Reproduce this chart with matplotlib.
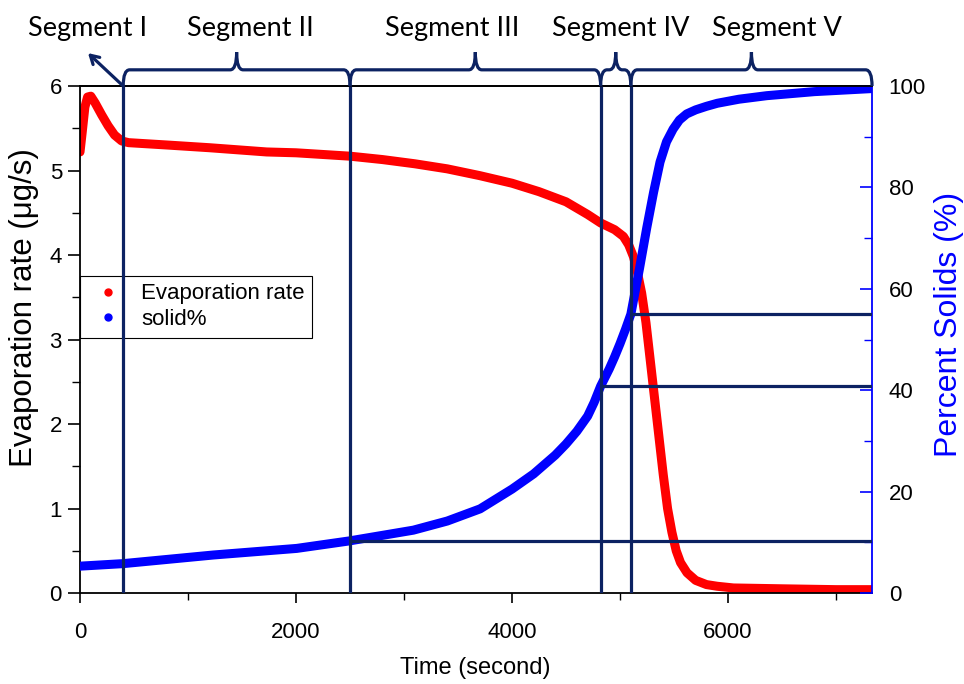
import matplotlib
matplotlib.use("Agg")
import matplotlib.pyplot as plt
import matplotlib.transforms as mtransforms
from matplotlib.path import Path
from matplotlib.patches import PathPatch
from matplotlib.lines import Line2D
from matplotlib.ticker import MultipleLocator

# evaporation rate (ug/s) vs time (s)
time_rate = [0, 20, 45, 70, 100, 140, 200, 260, 320, 386, 450, 833, 1200,
             1728, 2000, 2500, 2800, 3100, 3400, 3700, 4000, 4250, 4500, 4700,
             4820, 4950, 5031, 5080, 5124, 5160, 5200, 5240, 5280, 5320, 5360,
             5400, 5440, 5480, 5520, 5560, 5620, 5700, 5800, 5900, 6050, 6500,
             7000, 7330]
rate = [5.22, 5.45, 5.75, 5.87, 5.88, 5.80, 5.66, 5.53, 5.42, 5.35, 5.33,
        5.30, 5.27, 5.22, 5.21, 5.17, 5.13, 5.08, 5.02, 4.94, 4.85, 4.75,
        4.63, 4.48, 4.38, 4.30, 4.22, 4.12, 3.98, 3.80, 3.55, 3.20, 2.75,
        2.30, 1.85, 1.40, 1.00, 0.72, 0.50, 0.36, 0.24, 0.15, 0.10, 0.08,
        0.06, 0.05, 0.04, 0.04]

# percent solids vs time (s)
time_solid = [0, 400, 1234, 2006, 2500, 3086, 3400, 3704, 4000, 4200, 4400,
              4500, 4600, 4700, 4760, 4820, 4900, 4950, 5000, 5050, 5100,
              5180, 5247, 5310, 5370, 5430, 5491, 5550, 5617, 5700, 5800,
              5900, 6100, 6358, 6800, 7330]
solid = [5.3, 5.8, 7.5, 8.8, 10.3, 12.4, 14.2, 16.6, 20.5, 23.5, 27.2, 29.4,
         31.9, 34.9, 37.6, 40.8, 44.2, 46.6, 49.2, 52.0, 55.0, 64.0, 72.0,
         79.0, 85.0, 89.0, 91.5, 93.3, 94.5, 95.3, 96.0, 96.6, 97.4, 98.1,
         98.9, 99.5]

# segment boundaries (s) and solid% reached at each boundary
bounds = [400, 2500, 4820, 5100]
levels = [10.3, 40.8, 55.0]
seg_names = ["Segment I", "Segment II", "Segment III", "Segment IV", "Segment V"]
seg_label_x = [74, 1574, 3444, 5009, 6454]

t_max = 7333
navy = "#0c2262"
arial = ["Liberation Sans", "DejaVu Sans"]

fig = plt.figure(figsize=(9.64, 6.84), dpi=100)
ax = fig.add_axes([0.083, 0.133, 0.8216, 0.7412])
ax2 = ax.twinx()

ax.plot(time_rate, rate, color="red", lw=6.5, solid_capstyle="round",
        solid_joinstyle="round")
ax2.plot(time_solid, solid, color="blue", lw=6.5, solid_capstyle="round",
         solid_joinstyle="round")

ax.set_xlim(0, t_max)
ax.set_ylim(0, 6)
ax2.set_ylim(0, 100)

ax.xaxis.set_major_locator(MultipleLocator(2000))
ax.xaxis.set_minor_locator(MultipleLocator(1000))
ax.yaxis.set_major_locator(MultipleLocator(1))
ax.yaxis.set_minor_locator(MultipleLocator(0.5))
ax2.yaxis.set_major_locator(MultipleLocator(20))
ax2.yaxis.set_minor_locator(MultipleLocator(10))

ax.tick_params(axis="x", which="major", direction="out", length=7, width=1.2, pad=14)
ax.tick_params(axis="x", which="minor", direction="out", length=5, width=1.0)
ax.tick_params(axis="y", which="major", direction="out", length=9, width=1.2, pad=4)
ax.tick_params(axis="y", which="minor", direction="out", length=6, width=1.0)
ax2.tick_params(axis="y", which="major", direction="in", length=9, width=1.2,
                pad=12, colors="blue", labelcolor="black")
ax2.tick_params(axis="y", which="minor", direction="in", length=6, width=1.0,
                colors="blue")

for lab in ax.get_xticklabels() + ax.get_yticklabels() + ax2.get_yticklabels():
    lab.set_family(arial)
    lab.set_fontsize(16)

for s in ["left", "bottom", "top"]:
    ax.spines[s].set_linewidth(1.3)
ax2.spines["right"].set_color("blue")
ax2.spines["right"].set_linewidth(1.3)
ax2.spines["top"].set_linewidth(1.3)
ax2.spines["left"].set_visible(False)
ax2.spines["bottom"].set_visible(False)
ax.spines["right"].set_visible(False)

ax.set_xlabel("Time (second)", family=arial, fontsize=17, va="center")
ax.xaxis.set_label_coords(0.499, -0.148)
ax.set_ylabel("Evaporation rate (μg/s)", family=arial, fontsize=22.5, va="center")
ax.yaxis.set_label_coords(-0.071, 0.564)
ax2.set_ylabel("Percent Solids (%)", family=arial, fontsize=23, color="blue",
               rotation=90, va="center")
ax2.yaxis.set_label_coords(1.097, 0.53)

handles = [Line2D([], [], ls="none", marker="o", ms=5, color="red"),
           Line2D([], [], ls="none", marker="o", ms=5, color="blue")]
leg = ax2.legend(handles, ["Evaporation rate", "solid%"], loc="upper left",
                 bbox_to_anchor=(0.0, 0.626), borderaxespad=0, fancybox=False,
                 edgecolor="black", framealpha=1, prop={"family": arial, "size": 16},
                 handlelength=1.8, handletextpad=0.6, labelspacing=0.2,
                 borderpad=0.35)
leg.get_frame().set_linewidth(0.8)
leg.set_zorder(5)

# segment boundaries and solid% guide lines
ax2.vlines(bounds, 0, 100, color=navy, lw=2.3, zorder=6)
for b, lv in zip(bounds[1:], levels):
    ax2.hlines(lv, b, t_max, color=navy, lw=2.3, zorder=6)

# curly braces above the plot
trans = mtransforms.blended_transform_factory(ax2.transData, ax2.transAxes)
edges = bounds + [t_max]
dx = 60
y0, y1, y2 = 1.0, 1.032, 1.067
for a, b in zip(edges[:-1], edges[1:]):
    m = (a + b) / 2
    verts = [(a, y0), (a, y1), (a + dx, y1),
             (m - dx, y1), (m, y1), (m, y2),
             (m, y1), (m + dx, y1),
             (b - dx, y1), (b, y1), (b, y0)]
    codes = [Path.MOVETO, Path.CURVE3, Path.CURVE3,
             Path.LINETO, Path.CURVE3, Path.CURVE3,
             Path.CURVE3, Path.CURVE3,
             Path.LINETO, Path.CURVE3, Path.CURVE3]
    ax2.add_patch(PathPatch(Path(verts, codes), fc="none", ec=navy, lw=2.3,
                            transform=trans, clip_on=False, zorder=6))

ax2.annotate("", xy=(74, 1.065), xycoords=trans, xytext=(400, 1.0),
             textcoords=trans,
             arrowprops=dict(arrowstyle="->,head_length=0.6,head_width=0.35",
                             color=navy, lw=2.3, shrinkA=0, shrinkB=0),
             annotation_clip=False, zorder=6)

for name, x in zip(seg_names, seg_label_x):
    ax2.text(x, 1.113, name, transform=trans, ha="center", va="center",
             family=["Lato", "DejaVu Sans"], fontsize=19.5, color="black")

fig.savefig("out.png", dpi=100)
